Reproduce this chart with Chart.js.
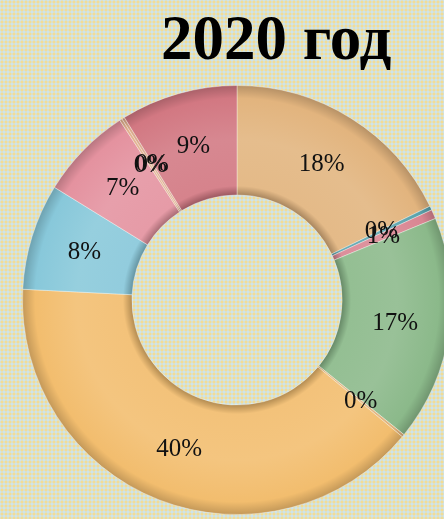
<!DOCTYPE html>
<html>
<head>
<meta charset="utf-8">
<script src="https://cdn.jsdelivr.net/npm/chart.js@4.4.0/dist/chart.umd.min.js"></script>
<style>
    html, body {
        margin: 0;
        padding: 0;
        width: 444px;
        height: 519px;
        overflow: hidden;
    }
    body {
        position: relative;
        background-color: #cde4eb;
        background-image: radial-gradient(circle, #f2dc96 1.3px, transparent 1.8px);
        background-size: 4px 4px;
    }
    #title {
        position: absolute;
        left: 161px;
        top: 0px;
        margin: 0;
        font-family: "Liberation Serif", "Times New Roman", serif;
        font-weight: bold;
        font-size: 63px;
        line-height: 76px;
        color: #000;
        white-space: nowrap;
    }
    #chartBox {
        position: absolute;
        left: 0;
        top: 85px;
        width: 474px;
        height: 430px;
    }
</style>
</head>
<body>
<h1 id="title">2020 год</h1>
<div id="chartBox"><canvas id="donut"></canvas></div>
<script>
// share of each category, percent (clockwise from 12 o'clock)
const categories = ['A', 'B', 'C', 'D', 'E', 'F', 'G', 'H', 'I', 'J', 'K'];
const shares = [17.8, 0.3, 0.7, 17, 0.2, 39.8, 8, 7, 0.2, 0.2, 8.8];
const colors = ['#e2b47e', '#5aa3ad', '#d98592', '#8bb98a', '#e0b27c', '#f2bd6e',
                '#88c8da', '#e4929f', '#e2b08e', '#d9a88a', '#d27882'];

// darken/lighten a hex colour by factor
function shade(hex, f) {
    let r = parseInt(hex.substr(1, 2), 16);
    let g = parseInt(hex.substr(3, 2), 16);
    let b = parseInt(hex.substr(5, 2), 16);
    const mix = (c) => f < 0 ? Math.round(c * (1 + f)) : Math.round(c + (255 - c) * f);
    return 'rgb(' + mix(r) + ',' + mix(g) + ',' + mix(b) + ')';
}

const cutoutRatio = 0.49;

// radial bevel look: dark edges, light middle
function segmentFill(context) {
    const chart = context.chart;
    const area = chart.chartArea;
    const base = colors[context.dataIndex];
    if (!area) return base;
    const cx = (area.left + area.right) / 2;
    const cy = (area.top + area.bottom) / 2;
    const outer = Math.min(area.right - area.left, area.bottom - area.top) / 2;
    const inner = outer * cutoutRatio;
    const grad = chart.ctx.createRadialGradient(cx, cy, inner, cx, cy, outer);
    grad.addColorStop(0, shade(base, -0.25));
    grad.addColorStop(0.08, shade(base, 0.08));
    grad.addColorStop(0.5, shade(base, 0.12));
    grad.addColorStop(0.88, base);
    grad.addColorStop(1, shade(base, -0.2));
    return grad;
}

// draws the rounded percentage in the middle of each arc
const percentLabels = {
    id: 'percentLabels',
    afterDatasetsDraw(chart) {
        const ctx = chart.ctx;
        const meta = chart.getDatasetMeta(0);
        const total = shares.reduce((a, b) => a + b, 0);
        ctx.save();
        ctx.font = '25px "Liberation Serif", "Times New Roman", serif';
        ctx.fillStyle = '#111';
        ctx.textAlign = 'center';
        ctx.textBaseline = 'middle';
        meta.data.forEach((arc, i) => {
            const pos = arc.tooltipPosition();
            const pct = Math.round(shares[i] / total * 100);
            ctx.fillText(pct + '%', pos.x, pos.y);
        });
        ctx.restore();
    }
};

const donutEl = document.getElementById('donut');

let config = {
    type: 'doughnut',
    data: {
        labels: categories,
        datasets: [{
            data: shares,
            backgroundColor: segmentFill,
            borderColor: 'rgba(255,255,255,0.35)',
            borderWidth: 1
        }]
    },
    options: {
        responsive: true,
        maintainAspectRatio: false,
        animation: false,
        cutout: (cutoutRatio * 100) + '%',
        layout: { padding: 0 },
        plugins: {
            legend: { display: false },
            tooltip: { enabled: false }
        }
    },
    plugins: [percentLabels]
};

let chartObj = new Chart(donutEl, config);
</script>
</body>
</html>
